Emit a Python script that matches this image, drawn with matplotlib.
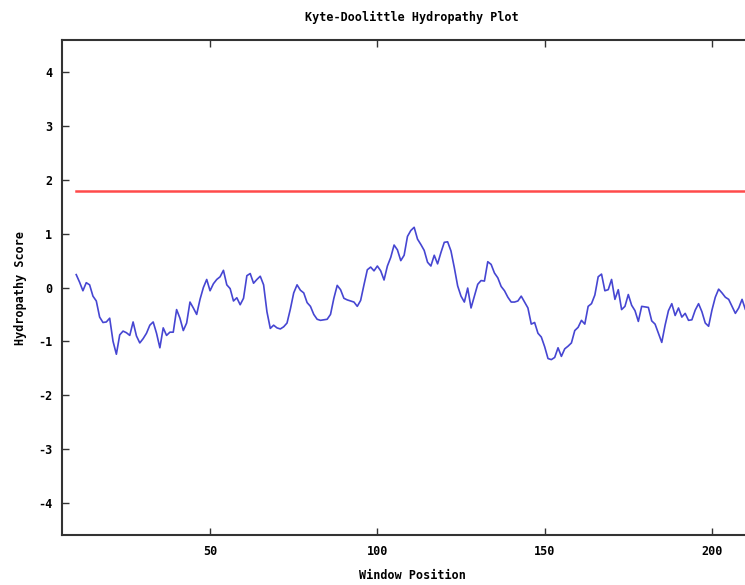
import matplotlib
matplotlib.use('Agg')
import matplotlib.pyplot as plt

plt.rcParams['axes.unicode_minus'] = False

# window positions and Kyte-Doolittle scores
positions = list(range(10, 212))
scores = [
    0.24, 0.10, -0.06, 0.09, 0.05, -0.16, -0.25, -0.55, -0.65, -0.64,
    -0.57, -1.00, -1.24, -0.88, -0.81, -0.84, -0.89, -0.64, -0.90, -1.03,
    -0.95, -0.85, -0.70, -0.64, -0.85, -1.12, -0.75, -0.89, -0.83, -0.83,
    -0.41, -0.57, -0.80, -0.66, -0.27, -0.38, -0.50, -0.22, 0.00, 0.15,
    -0.06, 0.07, 0.15, 0.20, 0.32, 0.05, -0.02, -0.25, -0.19, -0.32,
    -0.20, 0.22, 0.26, 0.08, 0.15, 0.21, 0.05, -0.45, -0.76, -0.70,
    -0.75, -0.77, -0.73, -0.66, -0.40, -0.10, 0.05, -0.05, -0.10, -0.28,
    -0.35, -0.50, -0.59, -0.61, -0.60, -0.59, -0.50, -0.20, 0.04, -0.04,
    -0.20, -0.23, -0.25, -0.27, -0.35, -0.24, 0.05, 0.33, 0.38, 0.31,
    0.40, 0.31, 0.14, 0.40, 0.56, 0.79, 0.70, 0.50, 0.60, 0.95,
    1.06, 1.12, 0.90, 0.80, 0.69, 0.47, 0.40, 0.60, 0.44, 0.65,
    0.84, 0.85, 0.68, 0.37, 0.03, -0.16, -0.27, -0.01, -0.38, -0.16,
    0.06, 0.13, 0.12, 0.48, 0.43, 0.27, 0.18, 0.02, -0.06, -0.18,
    -0.27, -0.27, -0.25, -0.16, -0.27, -0.38, -0.68, -0.65, -0.85, -0.92,
    -1.10, -1.32, -1.34, -1.30, -1.12, -1.28, -1.14, -1.09, -1.03, -0.80,
    -0.74, -0.61, -0.68, -0.35, -0.30, -0.14, 0.20, 0.25, -0.06, -0.04,
    0.15, -0.22, -0.04, -0.41, -0.35, -0.13, -0.33, -0.43, -0.63, -0.35,
    -0.36, -0.37, -0.62, -0.68, -0.85, -1.02, -0.70, -0.43, -0.30, -0.52,
    -0.38, -0.55, -0.48, -0.61, -0.60, -0.42, -0.30, -0.45, -0.66, -0.72,
    -0.42, -0.18, -0.03, -0.10, -0.18, -0.22, -0.35, -0.48, -0.38, -0.22,
    -0.41, -0.45,
]
threshold = 1.8
x_ticks = [50, 100, 150, 200]
y_ticks = [-4, -3, -2, -1, 0, 1, 2, 3, 4]

font = {'family': 'DejaVu Sans Mono', 'weight': 'bold', 'size': 8.5}

fig = plt.figure(figsize=(7.45, 5.85), dpi=100)
# axes runs off the right edge, like the cropped original
ax = fig.add_axes([0.083, 0.0855, 0.94, 0.846])

ax.plot([positions[0], 220], [threshold, threshold], color='#ff4a4a', lw=1.8)
ax.plot(positions, scores, color='#4646d2', lw=1.2)

ax.set_xlim(5.7, 215)
ax.set_ylim(-4.6, 4.6)
ax.set_xticks(x_ticks)
ax.set_yticks(y_ticks)
ax.tick_params(direction='in', length=5, width=1, color='#333333',
               top=True, right=False, pad=7)
for lab in ax.get_xticklabels() + ax.get_yticklabels():
    lab.set_fontproperties(matplotlib.font_manager.FontProperties(**font))

for sp in ax.spines.values():
    sp.set_color('#333333')
    sp.set_linewidth(1.5)

ax.set_title('Kyte-Doolittle Hydropathy Plot', fontdict=font, pad=14)
ax.set_xlabel('Window Position', fontdict=font, labelpad=8)
ax.set_ylabel('Hydropathy Score', fontdict=font, labelpad=8)

fig.savefig('out.png', dpi=100)
